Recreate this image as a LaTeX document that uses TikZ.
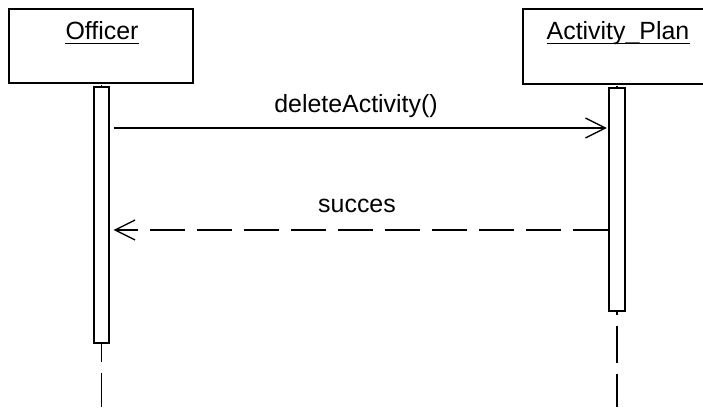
\documentclass[tikz,border=0pt]{standalone}
\usepackage{fontspec}
\setmainfont{Liberation Sans}
\usetikzlibrary{arrows.meta}
\tikzset{
  objbox/.style={draw, line width=1.4bp, inner sep=0pt},
  actbar/.style={draw, fill=white, line width=1.3bp, inner sep=0pt, minimum width=15bp},
  lifeline/.style={line width=1.2bp, dash pattern=on 37bp off 11bp, dash phase=47bp},
  lbl/.style={inner sep=0pt, anchor=base, font=\fontsize{25}{30}\selectfont},
  msg/.style={line width=1.3bp, -{Straight Barb[length=20bp,width=20bp,line width=1.3bp]}},
  reply/.style={msg, dash pattern=on 35bp off 12bp}
}
\begin{document}
\begin{tikzpicture}[x=1bp,y=-1bp]
\useasboundingbox (0,0) rectangle (703,407);
\clip (0,0) rectangle (703,407);
% object boxes
\node[objbox, minimum width=184bp, minimum height=74bp] (ob) at (101,46) {};
\node[objbox, minimum width=200bp, minimum height=75bp] (pb) at (623,46.5) {};
\node[lbl] (ot) at (102,39) {Officer};
\node[lbl] (pt) at (618,39) {Activity\_Plan};
\draw[line width=1bp] ([yshift=-4.5bp]ot.base west) -- ([yshift=-4.5bp]ot.base east);
\draw[line width=1bp] ([yshift=-4.5bp]pt.base west) -- ([yshift=-4.5bp]pt.base east);
% lifelines
\coordinate (oend) at (101.5,407);
\coordinate (pend) at (617,407);
\draw[lifeline] (ob.south -| oend) -- (oend);
\draw[lifeline] (pb.south -| pend) -- (pend);
% activation bars
\node[actbar, minimum height=256bp] (oa) at (101.5,215) {};
\node[actbar, minimum width=16bp, minimum height=223bp] (pa) at (617,199.5) {};
% messages
\coordinate (m1) at (0,128);
\coordinate (m2) at (0,230);
\draw[msg, shorten <=4bp, shorten >=1.5bp] (oa.east |- m1) -- (pa.west |- m1);
\node[lbl] (l1) at (356,112) {deleteActivity()};
\draw[reply, shorten <=0bp, shorten >=4bp] (pa.west |- m2) -- (oa.east |- m2);
\node[lbl] (l2) at (357,212) {succes};
\end{tikzpicture}
\end{document}
